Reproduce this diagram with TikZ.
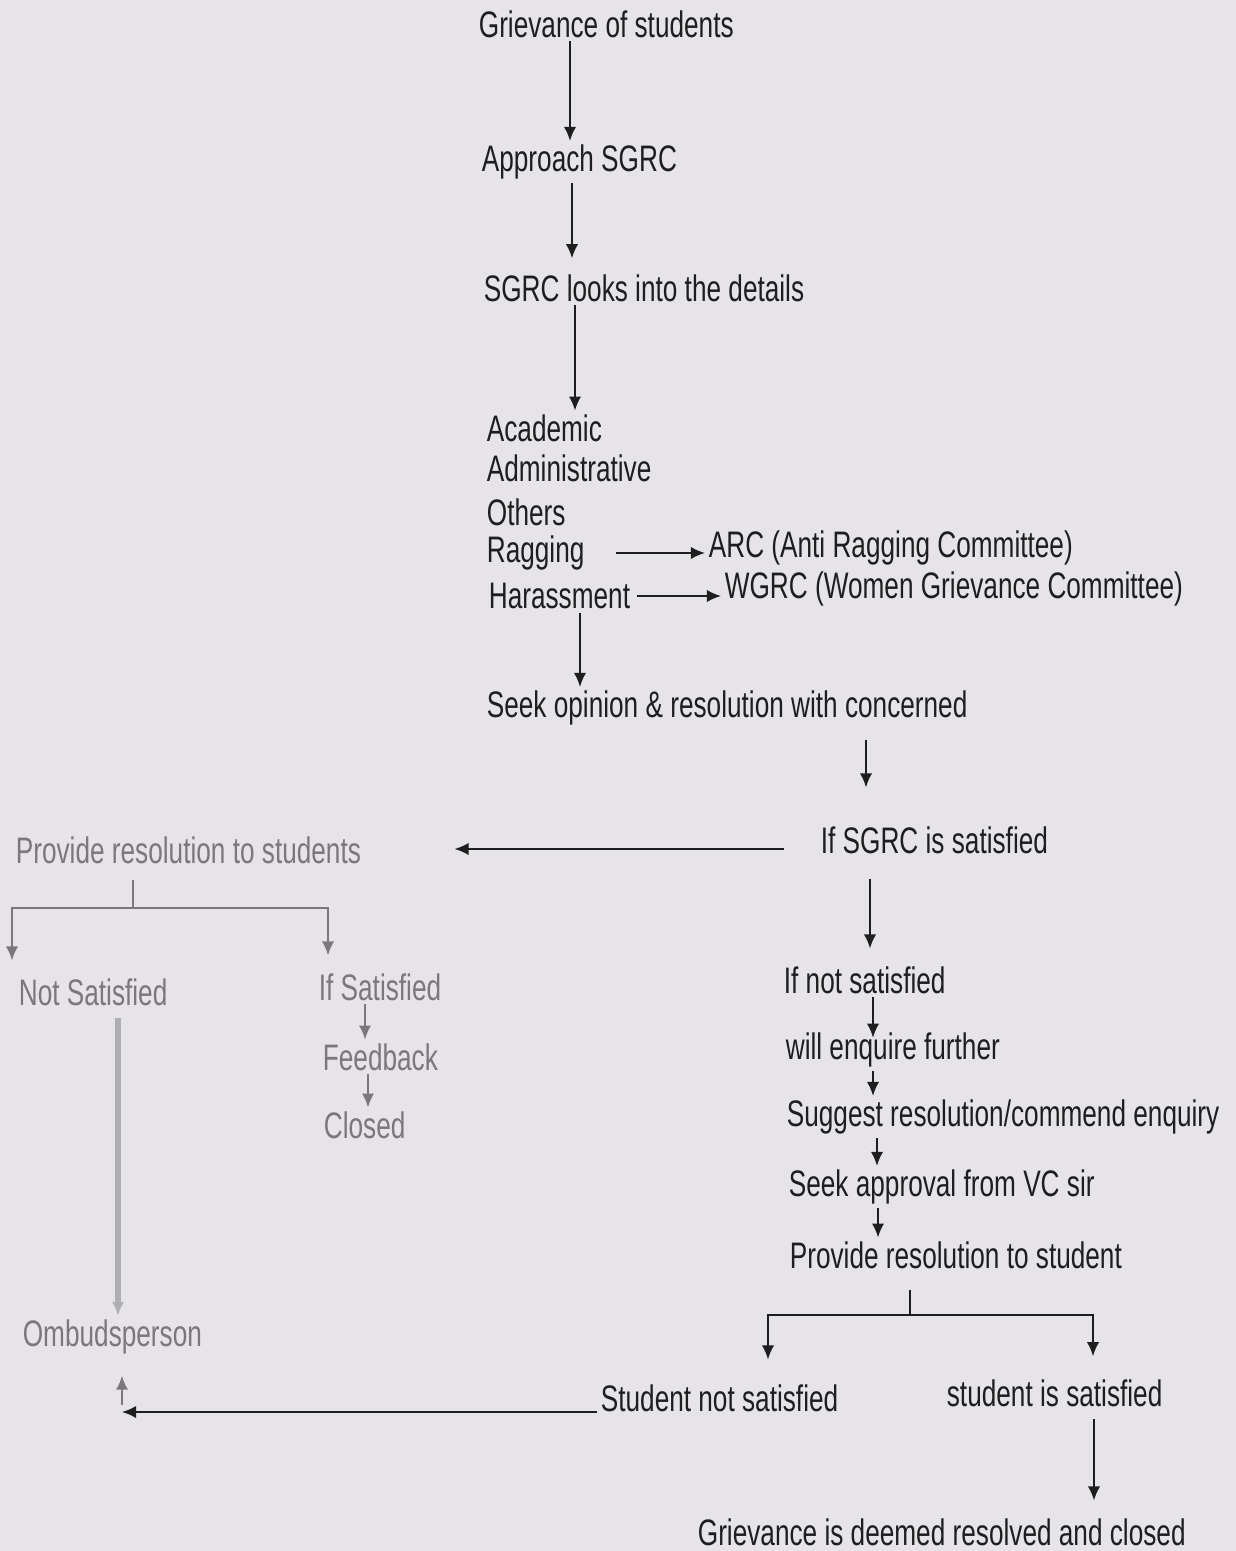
\documentclass[tikz,border=0pt]{standalone}
\usepackage{fontspec}
\setmainfont[FakeStretch=0.71]{Liberation Sans}
\usetikzlibrary{arrows.meta}
\definecolor{paper}{HTML}{E6E4E9}
\definecolor{ink}{HTML}{1E1E1E}
\definecolor{faint}{HTML}{7A787C}

\tikzset{
  lbl/.style={anchor=west, inner sep=2pt, text=ink, font=\fontsize{21}{25}\selectfont},
  faded/.style={lbl, text=faint},
  flow/.style={->, draw=ink, line width=1.1pt},
  fadedflow/.style={->, draw=faint, line width=1.3pt}
}

\begin{document}
\begin{tikzpicture}[x=0.02cm, y=-0.02cm, >={Latex[length=8pt,width=7pt]}]
	% Papier
	\fill[paper] (0,0) rectangle (1236,1551);
	\useasboundingbox (0,0) rectangle (1236,1551);

	% Hauptspalte
	\node[lbl] (griev) at (475,24) {Grievance of students};
	\node[lbl] (appr) at (478,162) {Approach SGRC};
	\node[lbl] (looks) at (480,288) {SGRC looks into the details};
	\node[lbl] (acad) at (483,428) {Academic};
	\node[lbl] (admin) at (483,468) {Administrative};
	\node[lbl] (others) at (483,512) {Others};
	\node[lbl] (ragg) at (483,553) {Ragging};
	\node[lbl] (hara) at (485,596) {Harassment};
	\node[lbl] (arc) at (705,548) {ARC (Anti Ragging Committee)};
	\node[lbl] (wgrc) at (721,589) {WGRC (Women Grievance Committee)};
	\node[lbl] (seek) at (483,708) {Seek opinion \& resolution with concerned};

	\draw[flow] (griev.south -| 570,0) -- (appr.north -| 570,0);
	\draw[flow, shorten >=7pt] (appr.south -| 572,0) -- (looks.north -| 572,0);
	\draw[flow] (looks.south -| 575,0) -- (acad.north -| 575,0);
	\draw[flow, shorten <=16pt] (ragg.east) -- (ragg.east -| arc.west);
	\draw[flow, shorten <=2pt] (hara.east) -- (hara.east -| wgrc.west);
	\draw[flow] (hara.south -| 580,0) -- (seek.north -| 580,0);

	% rechte Spalte
	\node[lbl] (ifsat) at (817,840) {If SGRC is satisfied};
	\node[lbl] (ifnot) at (780,980) {If not satisfied};
	\node[lbl] (enq) at (782,1050) {will enquire further};
	\node[lbl] (sugg) at (783,1117) {Suggest resolution/commend enquiry};
	\node[lbl] (appv) at (785,1187) {Seek approval from VC sir};
	\node[lbl] (provr) at (786,1255) {Provide resolution to student};
	\node[lbl] (snot) at (597,1398) {Student not satisfied};
	\node[lbl] (ssat) at (943,1393) {student is satisfied};
	\node[lbl] (done) at (694,1532) {Grievance is deemed resolved and closed};

	\draw[flow, shorten <=6pt, shorten >=20pt] (seek.south -| 866,0) -- (ifsat.north -| 866,0);
	\draw[flow, shorten <=12pt, shorten >=8pt] (ifsat.south -| 870,0) -- (ifnot.north -| 870,0);
	\draw[flow, shorten >=-5pt] (ifnot.south -| 873,0) -- (enq.north -| 873,0);
	\draw[flow] (enq.south -| 873,0) -- (sugg.north -| 873,0);
	\draw[flow] (sugg.south -| 877,0) -- (appv.north -| 877,0);
	\draw[flow] (appv.south -| 878,0) -- (provr.north -| 878,0);

	\coordinate (rsplit) at (910,1315);
	\draw[ink, line width=1.1pt, shorten <=10pt] (provr.south -| rsplit) -- (rsplit);
	\draw[flow, shorten >=12pt] (rsplit) -| (snot.north -| 768,0);
	\draw[flow, shorten >=11pt] (rsplit) -| (ssat.north -| 1093,0);
	\draw[flow, shorten <=5pt, shorten >=8pt] (ssat.south -| 1094,0) -- (done.north -| 1094,0);

	% linke Spalte (blass)
	\node[faded] (provl) at (12,850) {Provide resolution to students};
	\node[faded] (notsat) at (15,992) {Not Satisfied};
	\node[faded] (ifsatl) at (315,987) {If Satisfied};
	\node[faded] (feed) at (319,1057) {Feedback};
	\node[faded] (closed) at (320,1125) {Closed};
	\node[faded] (ombud) at (19,1337) {Ombudsperson};

	\draw[flow, shorten <=19pt, shorten >=51pt] ([yshift=-0.18cm]ifsat.west) -- ([yshift=-0.18cm]ifsat.west -| provl.east);

	\coordinate (lsplit) at (133,908);
	\draw[faint, line width=1.3pt, shorten <=7pt] (provl.south -| lsplit) -- (lsplit);
	\draw[fadedflow, shorten >=8pt] (lsplit) -| (notsat.north -| 12,0);
	\draw[fadedflow, shorten >=8pt] (lsplit) -| (ifsatl.north -| 328,0);
	\draw[fadedflow] (ifsatl.south -| 365,0) -- (feed.north -| 365,0);
	\draw[fadedflow] (feed.south -| 368,0) -- (closed.north -| 368,0);
	\draw[fadedflow, line width=3pt, draw=faint!60, shorten <=5pt] (notsat.south -| 118,0) -- (ombud.north -| 118,0);

	% zurueck zum Ombudsperson
	\coordinate (ocorner) at (122,1412);
	\draw[flow] (snot.west |- ocorner) -- (ocorner);
	\draw[fadedflow, shorten <=4pt, shorten >=10pt] (ocorner) -- (ombud.south -| ocorner);
\end{tikzpicture}
\end{document}
